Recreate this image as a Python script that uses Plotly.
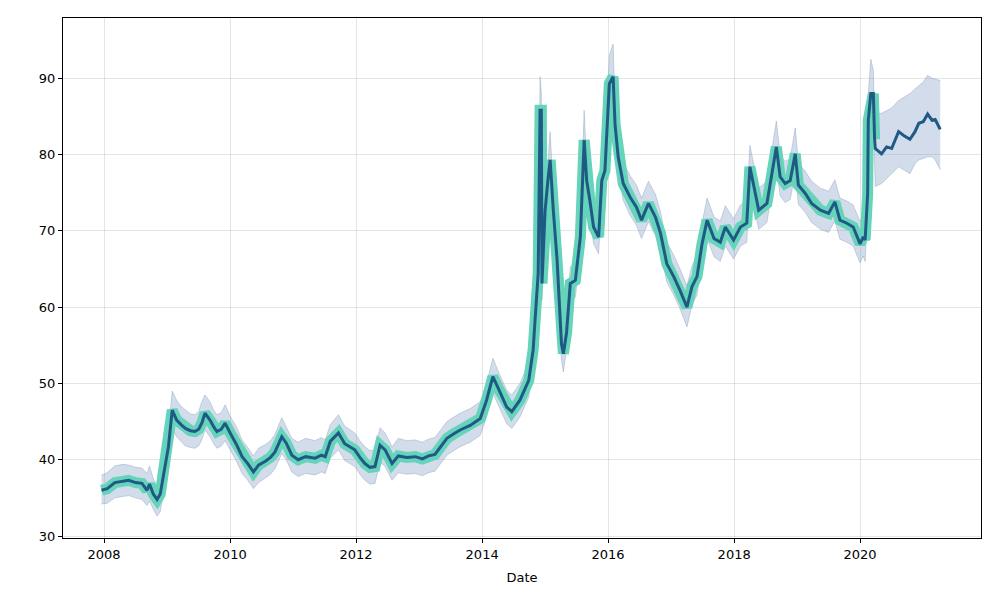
import plotly.graph_objects as go
import pandas as pd

# decimal-year positions of the observed series
hist_t = [2007.96, 2008.05, 2008.17, 2008.30, 2008.39, 2008.50, 2008.60, 2008.68, 2008.72, 2008.78,
          2008.84, 2008.89, 2008.97, 2009.02, 2009.08, 2009.15, 2009.22, 2009.29, 2009.37, 2009.44,
          2009.50, 2009.55, 2009.60, 2009.68, 2009.74, 2009.79, 2009.86, 2009.92, 2010.00, 2010.10,
          2010.19, 2010.28, 2010.37, 2010.45, 2010.56, 2010.64, 2010.71, 2010.82, 2010.89, 2010.98,
          2011.08, 2011.20, 2011.35, 2011.45, 2011.51, 2011.59, 2011.72, 2011.82, 2011.98, 2012.06,
          2012.14, 2012.22, 2012.30, 2012.38, 2012.46, 2012.57, 2012.67, 2012.80, 2012.94, 2013.05,
          2013.15, 2013.25, 2013.35, 2013.44, 2013.55, 2013.65, 2013.81, 2013.97, 2014.07, 2014.17,
          2014.26, 2014.39, 2014.47, 2014.60, 2014.74, 2014.81, 2014.84, 2014.89, 2014.92, 2014.94,
          2014.95, 2015.00, 2015.05, 2015.08, 2015.13, 2015.19, 2015.26, 2015.29, 2015.34, 2015.40,
          2015.48, 2015.56, 2015.62, 2015.66, 2015.71, 2015.77, 2015.85, 2015.90, 2015.95, 2016.02,
          2016.08, 2016.11, 2016.16, 2016.24, 2016.35, 2016.45, 2016.53, 2016.64, 2016.75, 2016.83,
          2016.93, 2017.04, 2017.14, 2017.25, 2017.33, 2017.41, 2017.49, 2017.57, 2017.68, 2017.78,
          2017.86, 2017.99, 2018.10, 2018.20, 2018.25, 2018.31, 2018.39, 2018.52, 2018.60, 2018.67,
          2018.73, 2018.81, 2018.89, 2018.97, 2019.02, 2019.13, 2019.23, 2019.37, 2019.50, 2019.60,
          2019.68, 2019.79, 2019.89, 2020.00, 2020.05, 2020.08, 2020.12, 2020.13, 2020.17, 2020.21,
          2020.23]
hist_y = [36.0, 36.2, 37.0, 37.2, 37.3, 37.0, 36.9, 36.0, 36.8, 35.5,
          34.8, 35.5, 39.5, 41.7, 46.5, 45.2, 44.6, 44.1, 43.8, 43.7,
          44.0, 44.8, 46.1, 45.2, 44.3, 43.7, 44.0, 44.8, 43.5, 42.0,
          40.4, 39.5, 38.4, 39.3, 39.8, 40.3, 41.0, 43.0, 42.2, 40.6,
          40.0, 40.4, 40.2, 40.6, 40.4, 42.4, 43.5, 42.1, 41.3, 40.3,
          39.5, 39.0, 39.1, 41.9, 41.3, 39.5, 40.5, 40.3, 40.4, 40.1,
          40.5, 40.7, 41.8, 42.8, 43.4, 43.9, 44.5, 45.4, 47.8, 50.9,
          49.3, 46.9, 46.3, 47.8, 50.4, 54.4, 58.3, 64.4, 85.8, 85.8,
          63.1, 72.7, 77.1, 79.3, 72.7, 66.2, 55.2, 53.9, 56.6, 63.1,
          63.5, 69.2, 81.9, 76.6, 74.0, 70.5, 69.2, 76.6, 77.9, 89.3,
          90.2, 84.0, 79.7, 76.2, 74.4, 73.1, 71.4, 73.6, 71.8, 69.7,
          65.7, 64.0, 62.2, 60.0, 62.7, 64.0, 68.3, 71.4, 69.0, 68.5,
          70.5, 68.8, 70.5, 71.0, 78.4, 75.8, 72.7, 73.6, 77.5, 81.0,
          77.1, 76.2, 76.6, 80.1, 76.0, 74.9, 73.6, 72.7, 72.3, 73.8,
          71.4, 71.0, 70.5, 68.3, 69.2, 68.8, 74.9, 84.5, 88.0, 88.0,
          82.0]
hist_hi = [38.0, 38.3, 39.2, 39.4, 39.3, 39.0, 38.9, 38.2, 39.2, 37.5,
           36.6, 37.6, 41.5, 43.8, 49.0, 47.8, 47.0, 46.5, 46.0, 45.9,
           46.3, 47.6, 48.5, 47.6, 46.5, 45.9, 46.2, 47.2, 45.7, 44.3,
           42.6, 41.6, 40.5, 41.5, 42.0, 42.5, 43.3, 45.5, 44.4, 42.8,
           42.3, 42.8, 42.5, 42.9, 42.6, 44.6, 45.9, 44.4, 43.5, 42.5,
           41.7, 41.2, 41.3, 44.2, 43.5, 41.7, 42.8, 42.5, 42.6, 42.3,
           42.7, 42.9, 44.0, 45.0, 45.6, 46.1, 46.7, 47.6, 50.0, 53.3,
           51.5, 49.1, 48.5, 50.0, 52.6, 56.6, 60.5, 66.6, 90.2, 88.0,
           65.3, 74.9, 79.5, 83.0, 74.9, 68.4, 57.4, 56.1, 58.8, 65.3,
           65.7, 71.4, 85.8, 78.8, 76.2, 72.7, 71.4, 78.8, 80.1, 93.0,
           94.5, 86.5, 82.2, 79.0, 77.2, 76.0, 74.3, 76.5, 74.8, 72.5,
           68.5, 66.8, 65.0, 62.8, 65.4, 66.8, 71.0, 74.3, 71.8, 71.3,
           73.3, 71.6, 73.4, 73.9, 81.2, 78.6, 75.6, 76.5, 80.4, 84.4,
           80.0, 79.1, 79.5, 83.5, 78.9, 77.8, 76.5, 75.6, 75.2, 76.7,
           74.3, 73.9, 73.4, 71.2, 72.1, 71.6, 77.8, 88.0, 92.5, 91.0,
           85.0]
hist_lo = [34.2, 34.3, 35.0, 35.2, 35.3, 35.0, 34.8, 34.0, 34.6, 33.5,
           32.6, 33.2, 37.3, 39.5, 44.2, 43.0, 42.4, 41.8, 41.6, 41.5,
           41.8, 42.6, 43.9, 43.0, 42.1, 41.5, 41.8, 42.5, 41.3, 39.8,
           38.2, 37.3, 36.2, 37.0, 37.6, 38.1, 38.8, 40.8, 40.0, 38.4,
           37.8, 38.2, 38.0, 38.4, 38.2, 40.2, 41.3, 39.9, 39.1, 38.1,
           37.3, 36.8, 36.9, 39.7, 39.1, 37.3, 38.3, 38.1, 38.2, 37.9,
           38.3, 38.5, 39.6, 40.6, 41.2, 41.7, 42.3, 43.2, 45.6, 48.7,
           47.1, 44.7, 44.1, 45.6, 48.2, 52.2, 56.1, 62.2, 83.6, 83.6,
           60.9, 70.5, 74.9, 77.1, 70.5, 64.0, 53.0, 51.5, 54.4, 60.9,
           61.3, 67.0, 79.7, 74.4, 71.8, 68.3, 67.0, 74.4, 75.7, 87.1,
           88.0, 81.8, 77.5, 74.0, 72.0, 70.7, 69.0, 71.2, 69.4, 67.3,
           63.3, 61.6, 59.8, 57.4, 60.3, 61.6, 65.9, 69.0, 66.6, 66.0,
           68.0, 66.3, 68.0, 68.5, 75.9, 73.3, 70.2, 71.1, 75.0, 78.5,
           74.6, 73.7, 74.1, 77.6, 73.5, 72.4, 71.1, 70.2, 69.8, 71.3,
           68.9, 68.5, 68.0, 65.8, 66.7, 66.0, 72.4, 82.0, 85.5, 85.5,
           79.0]

fc_t = [2020.24, 2020.34, 2020.42, 2020.50, 2020.61, 2020.69, 2020.79, 2020.87, 2020.93, 2021.00,
        2021.07, 2021.14, 2021.19, 2021.27]
fc_y = [80.8, 80.1, 81.0, 80.8, 83.0, 82.5, 82.0, 83.0, 84.1, 84.3, 85.3, 84.5, 84.6, 83.3]
fc_hi = [85.4, 85.4, 85.8, 86.1, 87.1, 87.5, 88.0, 88.6, 89.0, 89.5, 90.4, 90.0, 89.9, 89.7]
fc_lo = [75.8, 76.2, 76.8, 77.5, 78.4, 78.0, 77.5, 78.8, 79.3, 79.5, 79.7, 79.7, 79.3, 78.0]

x_ticks = ["2008", "2010", "2012", "2014", "2016", "2018", "2020"]


def to_dates(ts):
    out = []
    for t in ts:
        yr = int(t)
        start = pd.Timestamp(year=yr, month=1, day=1)
        end = pd.Timestamp(year=yr + 1, month=1, day=1)
        out.append(start + (end - start) * (t - yr))
    return out


hd = to_dates(hist_t)
fd = to_dates(fc_t)
all_d = hd + fd
all_hi = hist_hi + fc_hi
all_lo = hist_lo + fc_lo

band_line = dict(color="rgba(120,145,180,0.45)", width=0.8)
band_fill = "rgba(120,150,190,0.33)"

fig = go.Figure()
fig.add_trace(go.Scatter(x=all_d, y=all_lo, mode="lines", line=band_line,
                         showlegend=False, hoverinfo="skip"))
fig.add_trace(go.Scatter(x=all_d, y=all_hi, mode="lines", line=band_line,
                         fill="tonexty", fillcolor=band_fill,
                         showlegend=False, hoverinfo="skip"))
fig.add_trace(go.Scatter(x=hd, y=hist_y, mode="lines",
                         line=dict(color="#66d3bb", width=11),
                         showlegend=False))
fig.add_trace(go.Scatter(x=hd + fd, y=hist_y + fc_y, mode="lines",
                         line=dict(color="#1f5a85", width=3),
                         showlegend=False))

axis_common = dict(showline=True, linecolor="black", linewidth=1, mirror=True,
                   ticks="outside", ticklen=4, tickcolor="black",
                   showgrid=True, gridcolor="rgba(0,0,0,0.1)", gridwidth=1,
                   zeroline=False, tickfont=dict(family="DejaVu Sans", size=13, color="black"))

fig.update_layout(
    width=1000, height=600,
    margin=dict(l=63, r=19, t=18, b=62),
    paper_bgcolor="white", plot_bgcolor="white",
    font=dict(family="DejaVu Sans", size=13, color="black"),
    xaxis=dict(**axis_common, type="date",
               range=[pd.Timestamp("2007-05-08"), pd.Timestamp("2021-12-02")],
               tickvals=[pd.Timestamp(f"{y}-01-01") for y in x_ticks], ticktext=x_ticks,
               title=dict(text="Date", font=dict(size=13), standoff=12)),
    yaxis=dict(**axis_common, range=[29.74, 97.9], dtick=10, tick0=0),
)

fig.write_html("out.html")
